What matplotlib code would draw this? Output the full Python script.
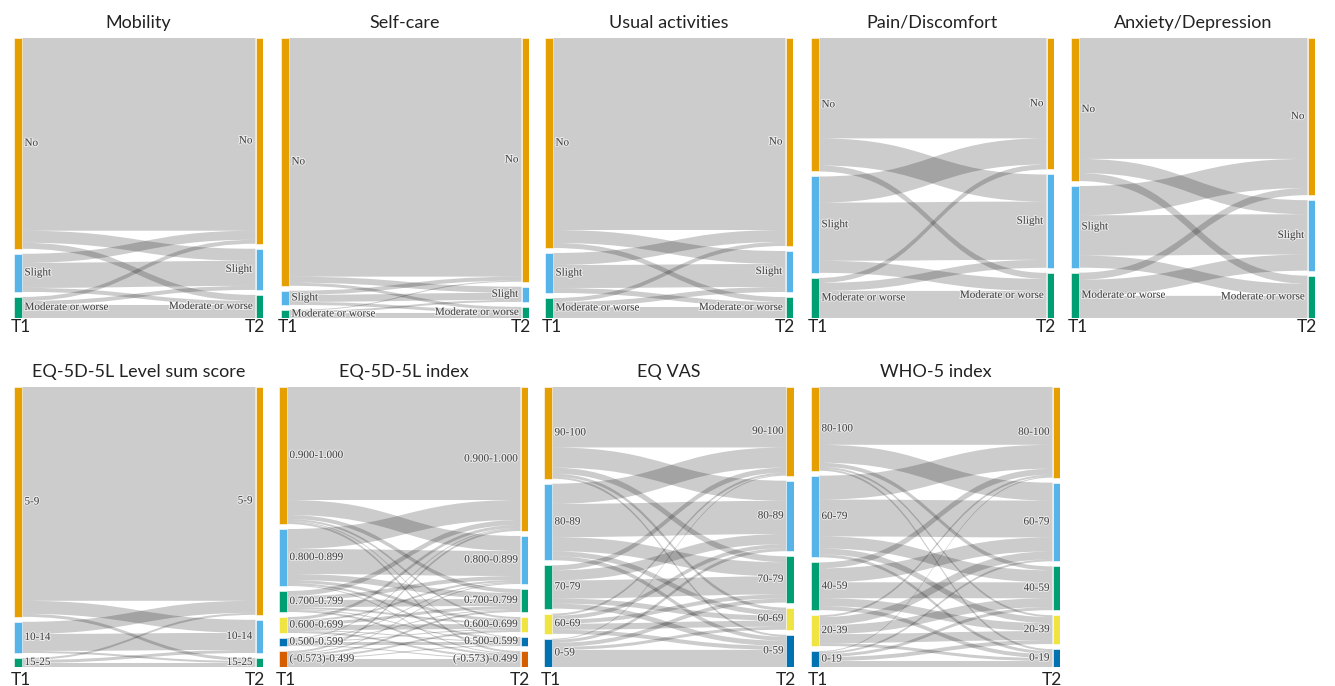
import matplotlib
matplotlib.use('Agg')
import matplotlib.pyplot as plt
import matplotlib.patheffects as pe
from matplotlib.path import Path
from matplotlib.patches import PathPatch, Rectangle

plt.rcParams['font.family'] = ['Lato', 'DejaVu Sans']

W, H = 1335, 686

# Okabe-Ito colours used for the categories (top -> bottom)
node_colors = ['#E69F00', '#56B4E9', '#009E73', '#F0E442', '#0072B2', '#D55E00']

# ---- data: flows[i][j] = count moving from T1 category i to T2 category j ----
level_labels = ['No', 'Slight', 'Moderate or worse']
mobility_flows = [[192, 12, 6], [9, 25, 4], [4, 4, 13]]
selfcare_flows = [[236, 6, 3], [4, 7, 3], [1, 2, 5]]
usual_flows = [[192, 13, 5], [12, 23, 5], [4, 5, 11]]
pain_flows = [[100, 27, 6], [26, 58, 12], [5, 8, 27]]
anxiety_flows = [[120, 14, 8], [29, 40, 12], [7, 16, 22]]

sum_labels = ['5-9', '10-14', '15-25']
sum_flows = [[213, 13, 3], [12, 17, 2], [2, 3, 4]]

index_labels = ['0.900-1.000', '0.800-0.899', '0.700-0.799', '0.600-0.699',
                '0.500-0.599', '(-0.573)-0.499']
index_flows = [[113, 15, 4, 2, 1, 2],
               [20, 25, 6, 3, 2, 1],
               [5, 4, 7, 2, 1, 2],
               [3, 2, 3, 5, 1, 2],
               [1, 1, 1, 1, 3, 1],
               [2, 1, 2, 2, 1, 8]]

vas_labels = ['90-100', '80-89', '70-79', '60-69', '0-59']
vas_flows = [[60, 20, 6, 3, 2],
             [20, 33, 14, 5, 4],
             [5, 10, 18, 5, 5],
             [2, 4, 4, 6, 4],
             [1, 3, 4, 3, 17]]

who_labels = ['80-100', '60-79', '40-59', '20-39', '0-19']
who_flows = [[58, 18, 4, 2, 2],
             [24, 37, 12, 6, 3],
             [6, 14, 16, 8, 4],
             [2, 8, 9, 9, 3],
             [1, 2, 3, 4, 6]]

titles = ['Mobility', 'Self-care', 'Usual activities', 'Pain/Discomfort',
          'Anxiety/Depression', 'EQ-5D-5L Level sum score', 'EQ-5D-5L index',
          'EQ VAS', 'WHO-5 index']
labels = [level_labels] * 5 + [sum_labels, index_labels, vas_labels, who_labels]
flows = [mobility_flows, selfcare_flows, usual_flows, pain_flows, anxiety_flows,
         sum_flows, index_flows, vas_flows, who_flows]

# panel boxes in pixels: left, right, top, bottom of the node area
boxes = [(14, 263, 38, 318), (281, 529, 38, 318), (545, 793, 38, 318),
         (811, 1054, 38, 318), (1071, 1315, 38, 318),
         (14, 263, 387, 667), (279, 528, 387, 667), (544, 794, 387, 667),
         (811, 1060, 387, 667)]


def draw_sankey(ax, cats, mat, wpx, hpx):
    n = len(cats)
    nw = 7.5 / wpx
    pad = 5.0 / hpx
    out_tot = [sum(r) for r in mat]
    in_tot = [sum(mat[i][j] for i in range(n)) for j in range(n)]
    ky = (1 - (n - 1) * pad) / max(sum(out_tot), sum(in_tot))

    def stack(tot):
        y, res = 0.0, []
        for t in tot:
            res.append(y)
            y += t * ky + pad
        return res

    ltop = stack(out_tot)
    rtop = stack(in_tot)
    soff = list(ltop)
    toff = list(rtop)
    xa, xb, xm = nw, 1 - nw, 0.5
    for i in range(n):
        for j in range(n):
            v = mat[i][j]
            if v <= 0:
                continue
            th = v * ky
            ys, yt = soff[i], toff[j]
            verts = [(xa, ys), (xm, ys), (xm, yt), (xb, yt),
                     (xb, yt + th), (xm, yt + th), (xm, ys + th), (xa, ys + th),
                     (xa, ys)]
            codes = [Path.MOVETO, Path.CURVE4, Path.CURVE4, Path.CURVE4,
                     Path.LINETO, Path.CURVE4, Path.CURVE4, Path.CURVE4,
                     Path.CLOSEPOLY]
            ax.add_patch(PathPatch(Path(verts, codes), facecolor='black',
                                   alpha=0.2, edgecolor='none', lw=0))
            soff[i] += th
            toff[j] += th

    halo = [pe.withStroke(linewidth=1.5, foreground='white', alpha=0.6)]
    for k in range(n):
        c = node_colors[k]
        hl = out_tot[k] * ky
        hr = in_tot[k] * ky
        ax.add_patch(Rectangle((0, ltop[k]), nw, hl, facecolor=c,
                               edgecolor='white', lw=0.4))
        ax.add_patch(Rectangle((1 - nw, rtop[k]), nw, hr, facecolor=c,
                               edgecolor='white', lw=0.4))
        ax.text(nw + 3 / wpx, ltop[k] + hl / 2, cats[k], ha='left', va='center',
                fontsize=8, family='Liberation Serif', color='#444444',
                path_effects=halo)
        ax.text(1 - nw - 3 / wpx, rtop[k] + hr / 2, cats[k], ha='right',
                va='center', fontsize=8, family='Liberation Serif',
                color='#444444', path_effects=halo)


fig = plt.figure(figsize=(W / 100, H / 100), dpi=100)

for p in range(len(titles)):
    x0, x1, y0, y1 = boxes[p]
    wpx, hpx = x1 - x0, y1 - y0
    ax = fig.add_axes([x0 / W, 1 - y1 / H, wpx / W, hpx / H])
    ax.set_xlim(0, 1)
    ax.set_ylim(1, 0)
    ax.axis('off')
    draw_sankey(ax, labels[p], flows[p], wpx, hpx)
    ax.text(0.5, -15 / hpx, titles[p], ha='center', va='center',
            fontsize=13, color='#222222', transform=ax.transData)
    below = 9 if y0 < 300 else 13
    ax.text(-3 / wpx, 1 + below / hpx, 'T1', ha='left', va='center',
            fontsize=12.5, color='#222222')
    ax.text(1 + 2 / wpx, 1 + below / hpx, 'T2', ha='right', va='center',
            fontsize=12.5, color='#222222')

fig.savefig('out.png', dpi=100)
